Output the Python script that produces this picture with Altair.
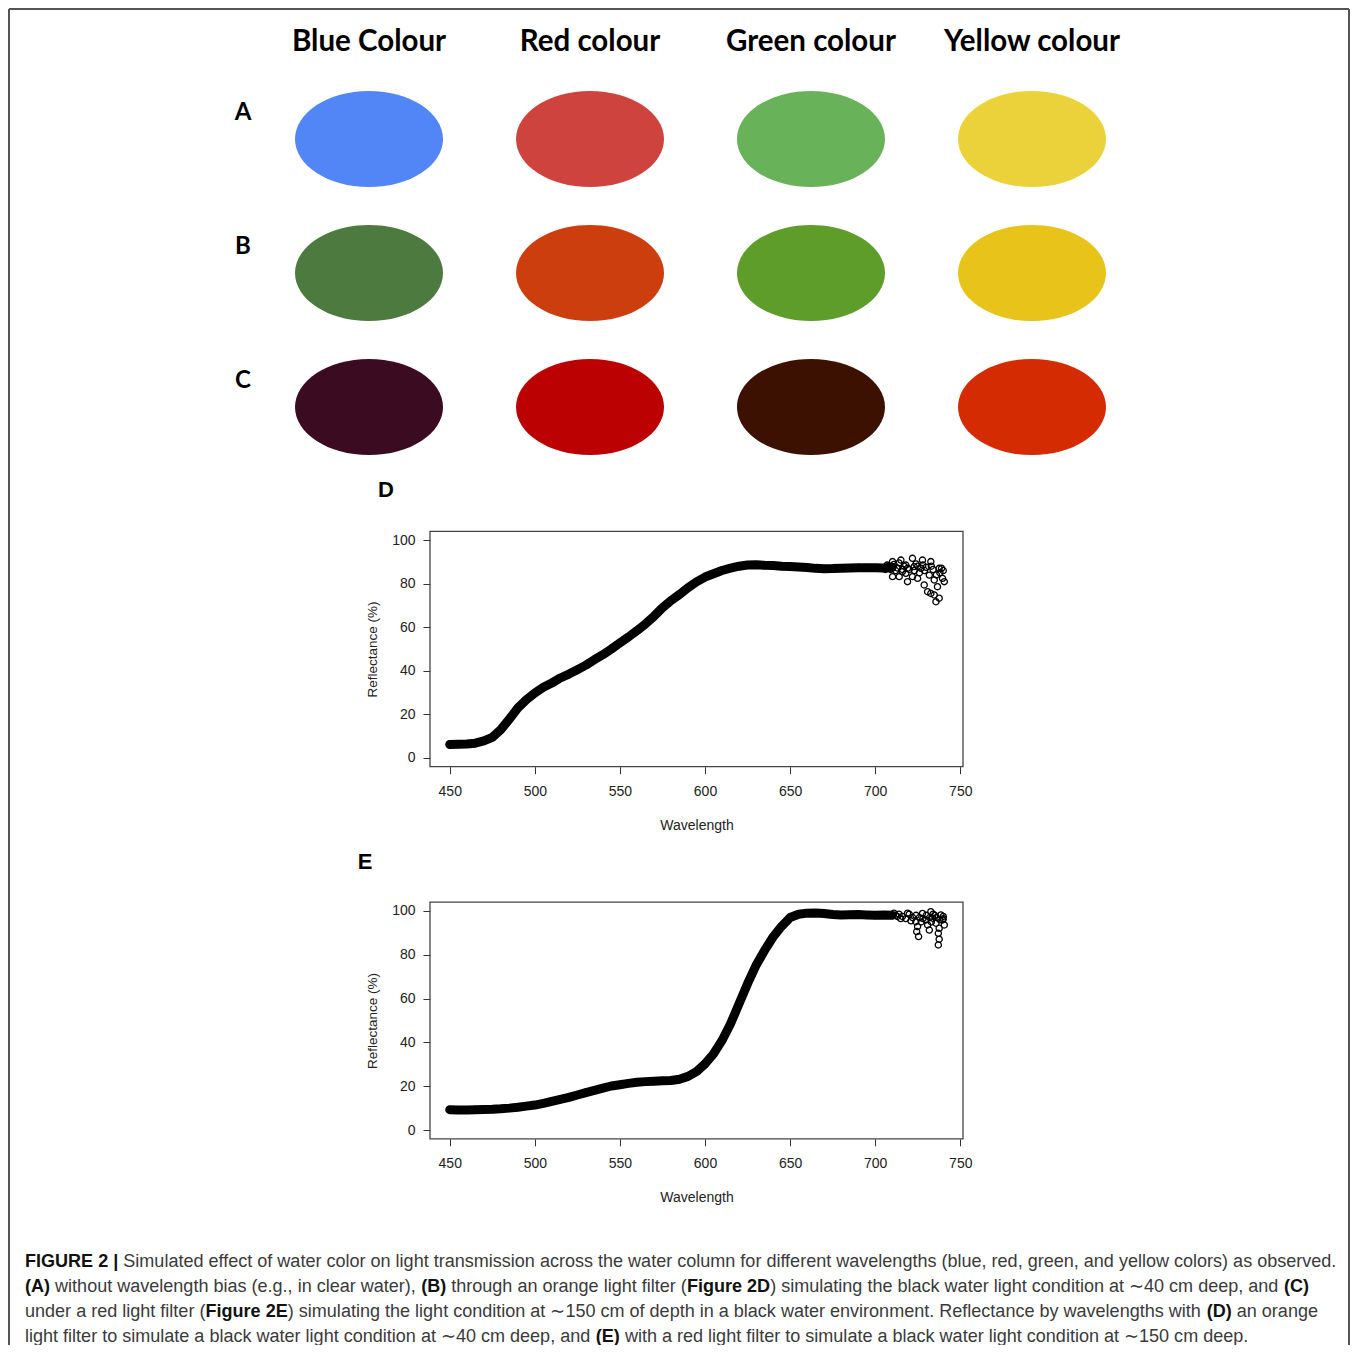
import altair as alt
import pandas as pd

W, H = 1342, 1337

# ---------------- top panel: colour swatches ----------------
columns = ["Blue Colour", "Red colour", "Green colour", "Yellow colour"]
rows = ["A", "B", "C"]
colours_A = ["#5285F5", "#CE433D", "#68B35A", "#ECD23A"]
colours_B = ["#4D7A3E", "#CD3E0E", "#5F9D2A", "#E8C31A"]
colours_C = ["#3B0B21", "#BB0102", "#3C1102", "#D52B02"]

# ---------------- spectra ----------------
wl_band = [450, 455, 460, 465, 470, 475, 480, 485, 490, 495, 500, 505, 510, 515, 520,
           525, 530, 535, 540, 545, 550, 555, 560, 565, 570, 575, 580, 585, 590, 595,
           600, 605, 610, 615, 620, 625, 630, 635, 640, 645, 650, 655, 660, 665, 670,
           675, 680, 685, 690, 695, 700, 705, 710]
refl_D = [6.2, 6.3, 6.4, 6.8, 7.8, 9.5, 13.0, 17.8, 22.9, 26.7, 29.8, 32.4, 34.4, 36.7, 38.5,
          40.5, 42.6, 45.1, 47.4, 50.0, 52.8, 55.5, 58.4, 61.5, 65.0, 68.9, 72.2, 75.0, 78.1, 80.8,
          83.0, 84.5, 86.0, 87.1, 88.0, 88.5, 88.6, 88.4, 88.3, 88.0, 87.8, 87.6, 87.4, 87.0, 86.8,
          86.9, 87.1, 87.2, 87.3, 87.3, 87.3, 87.2, 87.5]
refl_E = [9.3, 9.2, 9.2, 9.3, 9.4, 9.5, 9.7, 10.0, 10.4, 10.9, 11.4, 12.2, 13.1, 14.0, 14.9,
          16.0, 17.1, 18.1, 19.1, 20.1, 20.7, 21.3, 21.8, 22.1, 22.3, 22.5, 22.6, 23.2, 24.5, 26.7,
          30.2, 34.8, 40.9, 48.5, 57.6, 66.8, 75.2, 82.0, 88.1, 93.0, 97.0, 98.5, 99.0, 99.1, 98.8,
          98.4, 98.2, 98.3, 98.4, 98.2, 98.0, 98.2, 98.0]

tail_wl_D = [710.2, 715.1, 721.9, 727.8, 732.7, 737.6, 722.9, 726.9, 718.0, 710.2, 714.1, 731.8,
             739.6, 734.7, 724.9, 728.8, 736.6, 740.6, 730.8, 734.7, 737.6, 735.7, 732.7, 719.0,
             721.9, 712.0, 717.0, 720.0, 724.0, 729.0, 733.0, 738.0, 740.0, 726.0, 716.0, 708.0, 706.0,
             707.0, 709.0, 711.0, 713.0, 714.0, 716.0, 718.0, 719.0, 723.0, 725.0, 728.0, 730.0,
             734.0, 736.0, 739.0]
tail_refl_D = [90.1, 90.8, 91.6, 90.8, 90.1, 87.0, 87.8, 87.0, 84.7, 83.2, 83.2, 83.9,
               82.4, 81.7, 82.4, 79.4, 78.6, 80.9, 76.3, 74.8, 73.3, 71.7, 75.5, 80.9,
               83.2, 86.0, 88.0, 86.5, 89.0, 86.0, 88.0, 85.0, 86.0, 85.0, 86.5, 88.0, 86.5,
               88.5, 86.5, 88.8, 87.2, 89.5, 85.5, 88.5, 87.0, 86.0, 88.0, 88.5, 87.5,
               86.5, 84.0, 87.0]

tail_wl_E = [723.9, 724.9, 724.4, 725.5, 729.8, 730.8, 731.8, 733.7, 735.7, 737.6, 737.1, 737.6,
             737.1, 739.6, 740.6, 727.8, 732.7, 738.6, 712.0, 716.0, 720.0, 718.0, 722.0, 735.0, 740.0,
             711.0, 713.0, 714.0, 715.0, 719.0, 721.0, 724.0, 726.0, 727.0, 728.0, 730.0, 732.0,
             733.0, 734.0, 736.0, 738.0, 740.0]
tail_refl_E = [95.1, 92.9, 90.6, 88.3, 95.9, 93.6, 91.3, 96.7, 94.4, 92.1, 89.8, 87.1,
               84.5, 95.9, 93.6, 98.9, 99.7, 98.2, 98.0, 97.5, 98.5, 96.5, 97.0, 98.0, 96.5,
               99.0, 97.5, 98.5, 96.5, 99.0, 95.5, 98.0, 97.0, 95.0, 96.5, 98.0, 97.0,
               95.0, 98.5, 97.0, 96.0, 97.5]

x_ticks = [450, 500, 550, 600, 650, 700, 750]
y_ticks = [0, 20, 40, 60, 80, 100]
x_domain = [438.4, 751.6]
y_domain = [-4, 104]

# ---------------- caption ----------------
caption_lines = [
    [("FIGURE 2 |", True),
     (" Simulated effect of water color on light transmission across the water column for different wavelengths (blue, red, green, and yellow colors) as observed.", False)],
    [("(A)", True), (" without wavelength bias (e.g., in clear water), ", False), ("(B)", True),
     (" through an orange light filter (", False), ("Figure 2D", True),
     (") simulating the black water light condition at \u223c40 cm deep, and ", False), ("(C)", True)],
    [("under a red light filter (", False), ("Figure 2E", True),
     (") simulating the light condition at \u223c150 cm of depth in a black water environment. Reflectance by wavelengths with ", False),
     ("(D)", True), (" an orange", False)],
    [("light filter to simulate a black water light condition at \u223c40 cm deep, and ", False), ("(E)", True),
     (" with a red light filter to simulate a black water light condition at \u223c150 cm deep.", False)],
]

# Arial / Liberation Sans advance widths (per 1000 em)
REG = {' ': 278, '(': 333, ')': 333, ',': 278, '.': 278, '-': 333, '|': 260, '%': 889,
       '\u223c': 838, '~': 584,
       'a': 556, 'b': 556, 'c': 500, 'd': 556, 'e': 556, 'f': 278, 'g': 556, 'h': 556, 'i': 222,
       'j': 222, 'k': 500, 'l': 222, 'm': 833, 'n': 556, 'o': 556, 'p': 556, 'q': 556, 'r': 333,
       's': 500, 't': 278, 'u': 556, 'v': 500, 'w': 722, 'x': 500, 'y': 500, 'z': 500,
       'R': 722, 'S': 667, 'F': 611}
BOLD = {' ': 278, '(': 333, ')': 333, '|': 280, 'A': 722, 'B': 722, 'C': 722, 'D': 722,
        'E': 667, 'F': 611, 'G': 778, 'I': 278, 'R': 722, 'U': 722,
        'i': 278, 'g': 611, 'u': 611, 'r': 389, 'e': 556}


def em_width(s, bold):
    table = BOLD if bold else REG
    return sum(table.get(ch, 556) for ch in s) / 1000.0


caption_left = 17
caption_fs = 1313.0 / sum(em_width(t, b) for t, b in caption_lines[0])

cap_records = []
for li, segs in enumerate(caption_lines, start=1):
    cum = 0.0
    for text, bold in segs:
        lead = len(text) - len(text.lstrip(" "))
        x = caption_left + (cum + lead * em_width(" ", bold)) * caption_fs
        cap_records.append({"line": li, "x": x, "seg": text.strip(), "bold": bold})
        cum += em_width(text, bold)
cap_df = pd.DataFrame(cap_records)

# ---------------- building blocks ----------------
ELLIPSE = ("M-1,0C-1,-0.359,-0.552,-0.65,0,-0.65C0.552,-0.65,1,-0.359,1,0"
           "C1,0.359,0.552,0.65,0,0.65C-0.552,0.65,-1,0.359,-1,0Z")

col_scale = alt.Scale(type="point", domain=columns, range=[361, 1024], padding=0)
row_scale = alt.Scale(type="point", domain=rows, range=[131, 399], padding=0)

ell_records = []
for r, cols in zip(rows, [colours_A, colours_B, colours_C]):
    for c, h in zip(columns, cols):
        ell_records.append({"column": c, "row": r, "hex": h})
ell_df = pd.DataFrame(ell_records)

ellipses = alt.Chart(ell_df).mark_point(
    shape=ELLIPSE, filled=True, opacity=1, size=148 * 148, strokeWidth=0
).encode(
    x=alt.X("column:N", scale=col_scale, axis=None),
    y=alt.Y("row:N", scale=row_scale, axis=None),
    color=alt.Color("hex:N", scale=None),
)

headers = alt.Chart(pd.DataFrame({"column": columns})).mark_text(
    font="Lato", fontWeight="bold", fontSize=29.5, align="center", baseline="middle", color="#000000"
).encode(
    x=alt.X("column:N", scale=col_scale, axis=None),
    y=alt.value(34),
    text="column:N",
)

row_labels = alt.Chart(pd.DataFrame({"row": rows})).mark_text(
    font="Lato", fontWeight="bold", fontSize=24, align="center", baseline="middle",
    color="#000000", dy=-26
).encode(
    x=alt.value(235),
    y=alt.Y("row:N", scale=row_scale, axis=None),
    text="row:N",
)


def panel(letter, refl, twl, trefl, top, bottom, lx, ly):
    xs = alt.Scale(domain=x_domain, range=[422, 955], nice=False, zero=False)
    ys = alt.Scale(domain=y_domain, range=[bottom, top], nice=False, zero=False)
    ax_x = alt.Axis(orient="bottom", offset=bottom - H, values=x_ticks, grid=False, domain=False,
                    tickSize=7, tickColor="#333333", tickWidth=1,
                    labelFont="Liberation Sans", labelFontSize=14, labelColor="#222222",
                    labelPadding=11, labelFlush=False, labelOverlap=False,
                    title="Wavelength", titleFont="Liberation Sans", titleFontSize=14,
                    titleFontWeight="normal", titleColor="#222222", titlePadding=20)
    ax_y = alt.Axis(orient="left", offset=-422, values=y_ticks, grid=False, domain=False,
                    tickSize=7, tickColor="#333333", tickWidth=1,
                    labelFont="Liberation Sans", labelFontSize=14, labelColor="#222222",
                    labelPadding=8, labelFlush=False, labelOverlap=False,
                    title="Reflectance (%)", titleFont="Liberation Sans", titleFontSize=13.5,
                    titleFontWeight="normal", titleColor="#222222", titlePadding=12)
    band_df = pd.DataFrame({"wl": wl_band, "refl": refl})
    tail_df = pd.DataFrame({"wl": twl, "refl": trefl})
    line = alt.Chart(band_df).mark_line(
        color="#000000", strokeWidth=9, strokeCap="round", strokeJoin="round"
    ).encode(
        x=alt.X("wl:Q", scale=xs, axis=ax_x),
        y=alt.Y("refl:Q", scale=ys, axis=ax_y),
    )
    band_pts = alt.Chart(band_df).mark_point(
        shape="circle", size=44, filled=False, color="#000000", strokeWidth=1.3, opacity=1
    ).encode(
        x=alt.X("wl:Q", scale=xs, axis=None),
        y=alt.Y("refl:Q", scale=ys, axis=None),
    )
    tail_pts = alt.Chart(tail_df).mark_point(
        shape="circle", size=38, filled=False, color="#000000", strokeWidth=1.3, opacity=1
    ).encode(
        x=alt.X("wl:Q", scale=xs, axis=None),
        y=alt.Y("refl:Q", scale=ys, axis=None),
    )
    box = alt.Chart(pd.DataFrame({"k": [0]})).mark_rect(
        fill="transparent", stroke="#444444", strokeWidth=1.3
    ).encode(
        x=alt.value(422), x2=alt.value(955), y=alt.value(top), y2=alt.value(bottom)
    )
    lab = alt.Chart(pd.DataFrame({"t": [letter]})).mark_text(
        font="Liberation Sans", fontWeight="bold", fontSize=22, align="center",
        baseline="middle", color="#000000"
    ).encode(x=alt.value(lx), y=alt.value(ly), text="t:N")
    return [box, line, band_pts, tail_pts, lab]


panel_D = panel("D", refl_D, tail_wl_D, tail_refl_D, 523.3, 758.7, 378, 482)
panel_E = panel("E", refl_E, tail_wl_E, tail_refl_E, 894.2, 1130.8, 357, 854)

line_scale = alt.Scale(type="point", domain=[1, 2, 3, 4], range=[1254, 1329], padding=0)
cap_reg = alt.Chart(cap_df).transform_filter("!datum.bold").mark_text(
    font="Liberation Sans", fontSize=caption_fs, align="left", baseline="middle", color="#3a3a3a"
).encode(
    x=alt.X("x:Q", scale=None),
    y=alt.Y("line:O", scale=line_scale, axis=None),
    text="seg:N",
)
cap_bold = alt.Chart(cap_df).transform_filter("datum.bold").mark_text(
    font="Liberation Sans", fontWeight="bold", fontSize=caption_fs, align="left",
    baseline="middle", color="#111111"
).encode(
    x=alt.X("x:Q", scale=None),
    y=alt.Y("line:O", scale=line_scale, axis=None),
    text="seg:N",
)

frame_df = pd.DataFrame({"k": [0]})
frame_top = alt.Chart(frame_df).mark_rule(color="#555555", strokeWidth=2).encode(
    x=alt.value(1), x2=alt.value(1341), y=alt.value(1))
frame_left = alt.Chart(frame_df).mark_rule(color="#555555", strokeWidth=2).encode(
    x=alt.value(1), y=alt.value(1), y2=alt.value(H))
frame_right = alt.Chart(frame_df).mark_rule(color="#555555", strokeWidth=2).encode(
    x=alt.value(1341), y=alt.value(1), y2=alt.value(H))

chart = alt.layer(
    frame_top, frame_left, frame_right,
    ellipses, headers, row_labels,
    *panel_D, *panel_E,
    cap_reg, cap_bold,
).resolve_scale(
    x="independent", y="independent"
).properties(
    width=W, height=H, padding=0,
    autosize=alt.AutoSizeParams(type="none"),
).configure_view(stroke="transparent")

chart.save("out.html", embed_options={"renderer": "svg", "actions": False})
